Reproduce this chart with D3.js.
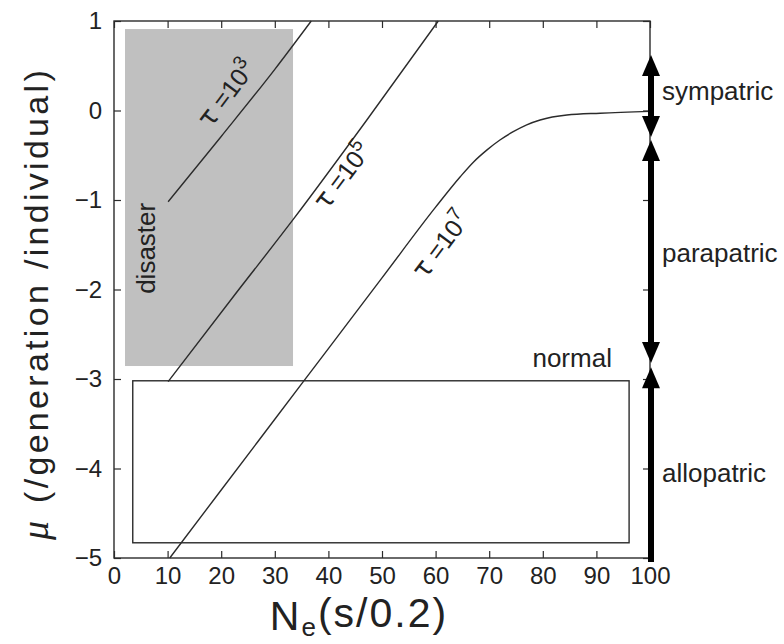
<html>
<head>
<meta charset="utf-8">
<style>
    body {
        margin: 0;
        background: white;
        font-family: "Liberation Sans", Arial, sans-serif;
    }
    svg {
        display: block;
    }
</style>
<script src="https://d3js.org/d3.v7.min.js"></script>
</head>
<body>
<svg id="chart"></svg>
<script>
    // axis ticks
    const xTicks = [0, 10, 20, 30, 40, 50, 60, 70, 80, 90, 100]
    const yTicks = [-5, -4, -3, -2, -1, 0, 1]

    // tau curves (Ne, log10 mu)
    const tau3X = [10.1, 20, 30, 36.8]
    const tau3Y = [-1.02, -0.29, 0.46, 1.0]
    const tau5X = [10.1, 22, 33.4, 47, 60.5]
    const tau5Y = [-3.03, -2.1, -1.22, -0.12, 1.0]
    const tau7X = [10.4, 20, 30, 40, 50, 60, 64.6, 67, 69.6, 72, 74.4, 77, 79.5, 84.5, 90.7, 100]
    const tau7Y = [-5, -4.24, -3.45, -2.66, -1.87, -1.08, -0.74, -0.58, -0.44, -0.33, -0.24, -0.16, -0.106, -0.05, -0.03, -0.01]
    const tauExp = ["3", "5", "7"]
    const tauLabelX = [21.0, 42.6, 61.0]
    const tauLabelY = [0.19, -0.73, -1.5]

    // shaded "disaster" box and open "normal" box
    const disasterX = [2.05, 33.4]
    const disasterY = [-2.855, 0.91]
    const normalX = [3.5, 96.1]
    const normalY = [-4.83, -3.02]

    // speciation modes on right edge
    const modeNames = ["sympatric", "parapatric", "allopatric"]
    const modeTop = [0.62, -0.33, -2.87]
    const modeBottom = [-0.296, -2.82, -5]
    const modeLabelY = [0.12, -1.69, -4.15]

    function drawChart() {
        let width = 784, height = 644
        let margin = {top: 21, left: 114, right: 134, bottom: 86}
        let svg = d3.select('#chart')
            .attr('width', width)
            .attr('height', height)

        let x = d3.scaleLinear().domain([0, 100]).range([margin.left, width - margin.right])
        let y = d3.scaleLinear().domain([-5, 1]).range([height - margin.bottom, margin.top])
        let ink = '#2b2b2b'

        // disaster box
        svg.append('rect')
            .attr('x', x(disasterX[0]))
            .attr('y', y(disasterY[1]))
            .attr('width', x(disasterX[1]) - x(disasterX[0]))
            .attr('height', y(disasterY[0]) - y(disasterY[1]))
            .attr('fill', '#c0c0c0')

        // normal box
        svg.append('rect')
            .attr('x', x(normalX[0]))
            .attr('y', y(normalY[1]))
            .attr('width', x(normalX[1]) - x(normalX[0]))
            .attr('height', y(normalY[0]) - y(normalY[1]))
            .attr('fill', 'none')
            .attr('stroke', ink)
            .attr('stroke-width', 1.4)

        // axes, ticks pointing in
        let fmt = d3.format('d')
        let axisB = svg.append('g')
            .attr('transform', `translate(0,${y(-5)})`)
            .call(d3.axisBottom(x).tickValues(xTicks).tickFormat(fmt).tickSize(-7).tickSizeOuter(0).tickPadding(9))
        let axisL = svg.append('g')
            .attr('transform', `translate(${x(0)},0)`)
            .call(d3.axisLeft(y).tickValues(yTicks).tickFormat(fmt).tickSize(-7).tickSizeOuter(0).tickPadding(12))
        let axisT = svg.append('g')
            .attr('transform', `translate(0,${y(1)})`)
            .call(d3.axisTop(x).tickValues(xTicks).tickSize(-7).tickSizeOuter(0).tickFormat(''))
        let axisR = svg.append('g')
            .attr('transform', `translate(${x(100)},0)`)
            .call(d3.axisRight(y).tickValues(yTicks).tickSize(-7).tickSizeOuter(0).tickFormat(''))

        for (let g of [axisB, axisL, axisT, axisR]) {
            g.select('.domain').remove()
            g.selectAll('line').attr('stroke', ink).attr('stroke-width', 1.2)
            g.selectAll('text')
                .attr('fill', '#222')
                .style('font-family', '"Liberation Sans", Arial, sans-serif')
                .style('font-size', '24px')
        }

        // frame
        svg.append('rect')
            .attr('x', x(0))
            .attr('y', y(1))
            .attr('width', x(100) - x(0))
            .attr('height', y(-5) - y(1))
            .attr('fill', 'none')
            .attr('stroke', ink)
            .attr('stroke-width', 1.4)

        // tau curves
        let line = d3.line().x(d => x(d[0])).y(d => y(d[1])).curve(d3.curveMonotoneX)
        let curves = [
            d3.zip(tau3X, tau3Y),
            d3.zip(tau5X, tau5Y),
            d3.zip(tau7X, tau7Y)
        ]
        svg.selectAll('.tau').data(curves)
            .enter().append('path')
            .attr('class', 'tau')
            .attr('d', line)
            .attr('fill', 'none')
            .attr('stroke', ink)
            .attr('stroke-width', 1.4)

        // tau labels
        tauExp.forEach((e, i) => {
            let t = svg.append('text')
                .attr('transform', `translate(${x(tauLabelX[i])},${y(tauLabelY[i])}) rotate(-53)`)
                .attr('text-anchor', 'middle')
                .attr('dy', '0.35em')
                .style('font-size', '25px')
                .attr('fill', '#222')
            t.append('tspan').style('font-family', '"DejaVu Sans", sans-serif').style('font-size', '27px').text('τ')
            t.append('tspan').text(' =10')
            t.append('tspan').attr('dy', '-0.55em').style('font-size', '19px').text(e)
        })

        // disaster / normal labels
        svg.append('text')
            .attr('transform', `translate(${x(7.65)},${y(-1.54)}) rotate(-90)`)
            .attr('text-anchor', 'middle')
            .style('font-size', '26px')
            .attr('fill', '#222')
            .text('disaster')
        svg.append('text')
            .attr('x', x(92.9))
            .attr('y', y(-2.87))
            .attr('text-anchor', 'end')
            .style('font-size', '26px')
            .attr('fill', '#222')
            .text('normal')

        // speciation arrows
        let ax = x(100) + 1
        let headLen = 21, headW = 9
        modeNames.forEach((name, i) => {
            let top = y(modeTop[i]), bot = y(modeBottom[i])
            let hasBottomHead = modeBottom[i] > -5
            svg.append('line')
                .attr('x1', ax).attr('x2', ax)
                .attr('y1', top + headLen - 1)
                .attr('y2', hasBottomHead ? bot - headLen + 1 : bot + 4)
                .attr('stroke', 'black')
                .attr('stroke-width', 6)
            svg.append('path')
                .attr('d', `M${ax},${top}L${ax + headW},${top + headLen}L${ax - headW},${top + headLen}Z`)
                .attr('fill', 'black')
            if (hasBottomHead) {
                svg.append('path')
                    .attr('d', `M${ax},${bot}L${ax + headW},${bot - headLen}L${ax - headW},${bot - headLen}Z`)
                    .attr('fill', 'black')
            }
            svg.append('text')
                .attr('x', ax + 11)
                .attr('y', y(modeLabelY[i]))
                .style('font-size', '26px')
                .attr('fill', '#222')
                .text(name)
        })

        // axis titles
        let xt = svg.append('text')
            .attr('x', 359)
            .attr('y', 630)
            .attr('text-anchor', 'middle')
            .style('font-size', '41px')
            .style('letter-spacing', '2px')
            .attr('fill', '#222')
        xt.append('tspan').text('N')
        xt.append('tspan').attr('dy', '0.22em').style('font-size', '26px').text('e')
        xt.append('tspan').attr('dy', '-0.22em').text('(s/0.2)')

        let yt = svg.append('text')
            .attr('transform', `translate(48,540) rotate(-90)`)
            .attr('text-anchor', 'start')
            .style('font-size', '34px')
            .attr('fill', '#222')
        yt.append('tspan')
            .style('font-family', '"Liberation Serif", serif')
            .style('font-style', 'italic')
            .style('font-size', '38px')
            .text('μ')
        yt.append('tspan').attr('dx', '18').style('letter-spacing', '3.3px').text('(/generation /individual)')
    }

    drawChart()
</script>
</body>
</html>
